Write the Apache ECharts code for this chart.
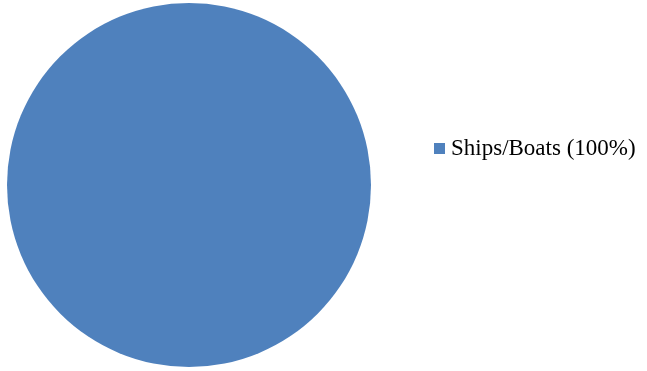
<!DOCTYPE html>
<html><head><meta charset="utf-8">
<script src="https://cdn.jsdelivr.net/npm/echarts@6/dist/echarts.min.js"></script>
<style>html,body{margin:0;padding:0;background:#fff}#c{width:647px;height:371px}</style>
</head><body><div id="c"></div>
<script>
const categories = ["Ships/Boats (100%)"];
const values = [100];
const colors = ["#4F81BD"];
const chart = echarts.init(document.getElementById('c'));
chart.setOption({
  animation: false,
  color: colors,
  legend: {
    orient: 'vertical', left: 429, top: 132,
    icon: 'rect', itemWidth: 11, itemHeight: 11, itemGap: 8,
    textStyle: { fontFamily: 'Liberation Serif', fontSize: 23, color: '#000', padding: [0, 0, 0, 1] },
    data: categories
  },
  series: [{
    type: 'pie', center: [189, 185], radius: 182,
    label: { show: false }, labelLine: { show: false },
    itemStyle: { borderWidth: 0 },
    data: categories.map((c, i) => ({ name: c, value: values[i] }))
  }]
});
</script></body></html>
